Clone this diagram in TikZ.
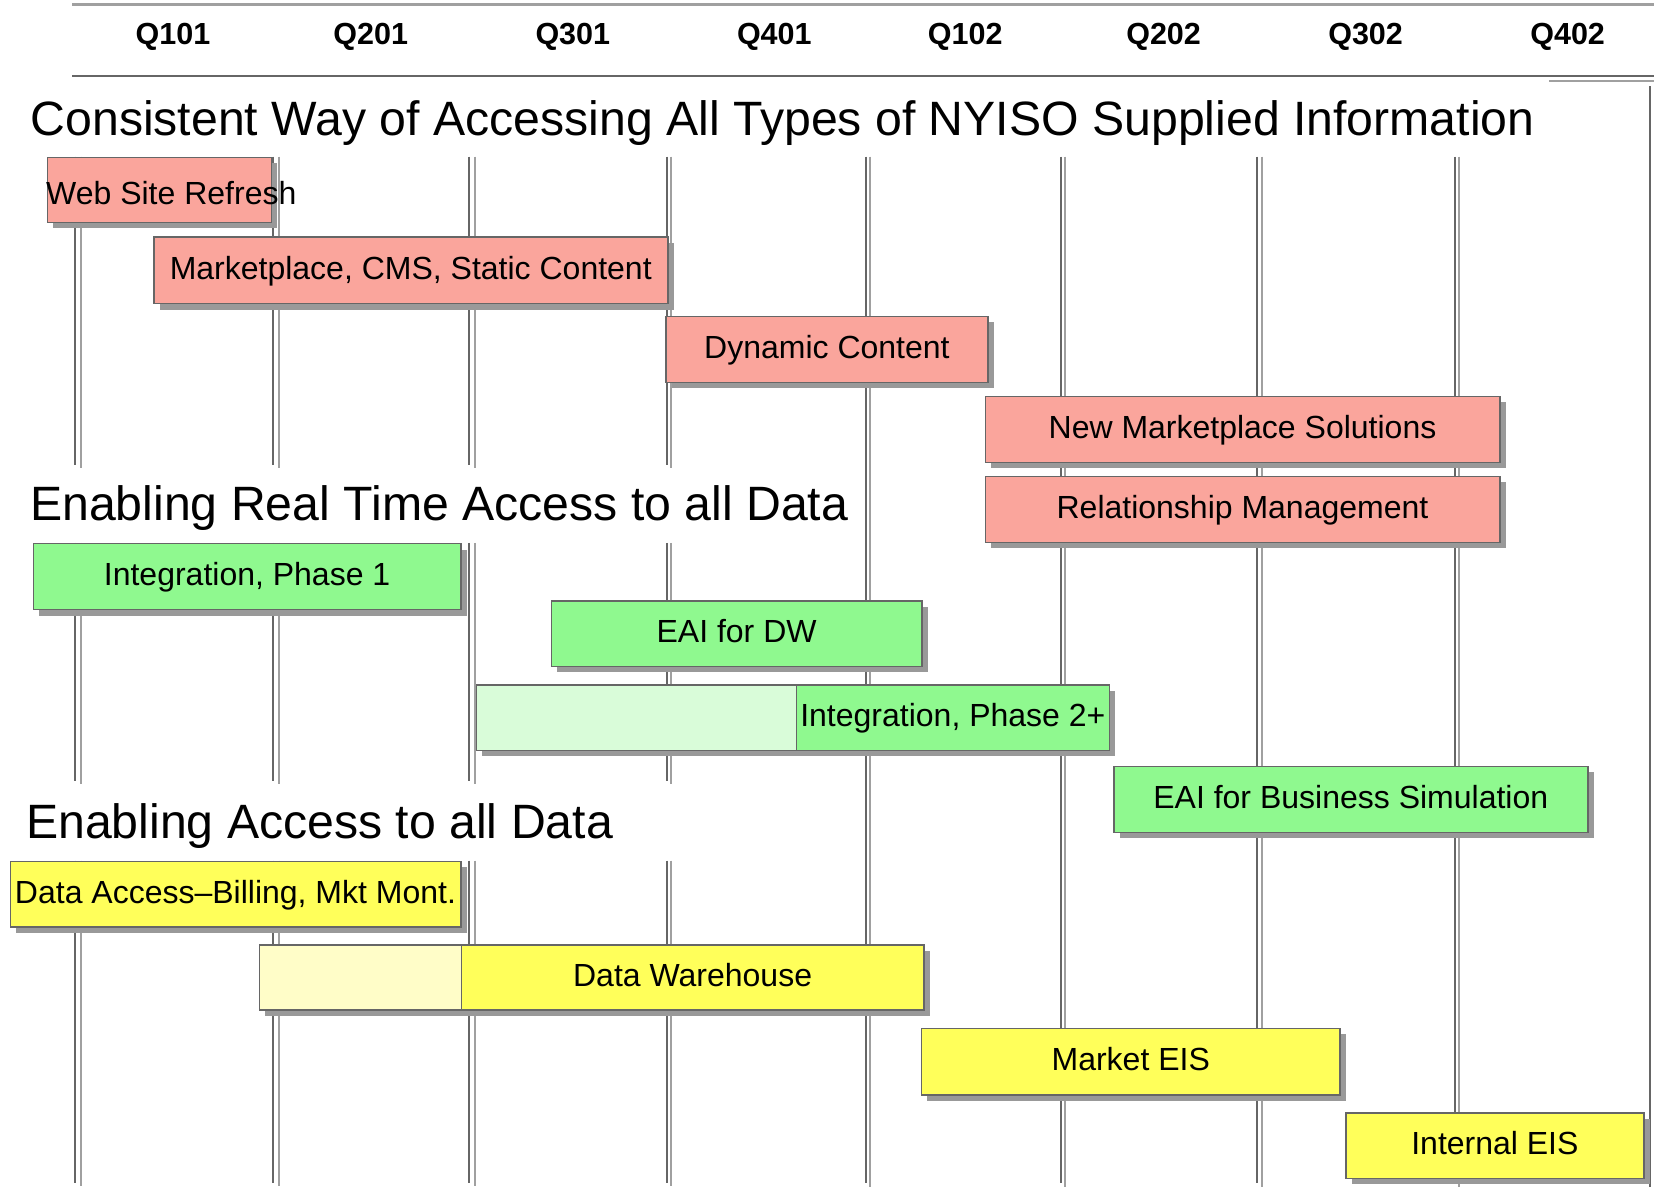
\documentclass[tikz,border=0pt]{standalone}
\usepackage{fontspec}
\setmainfont{Liberation Sans}
\usetikzlibrary{shadows}

\definecolor{ruledark}{RGB}{102,102,102}
\definecolor{rulelight}{RGB}{160,160,160}
\definecolor{barshadow}{RGB}{153,153,153}
\definecolor{pinkbar}{RGB}{250,165,156}
\definecolor{greenbar}{RGB}{143,249,143}
\definecolor{greenpale}{RGB}{217,252,217}
\definecolor{yellowbar}{RGB}{255,255,90}
\definecolor{yellowpale}{RGB}{255,253,200}

\begin{document}
\begin{tikzpicture}[x=1pt,y=-1pt,
  quarter/.style={font=\fontsize{30.5}{36}\selectfont\bfseries, anchor=base, inner sep=0pt},
  heading/.style={font=\fontsize{48.2}{56}\selectfont, anchor=base west, inner sep=0pt},
  griddark/.style={draw=ruledark, line width=2pt},
  gridlight/.style={draw=rulelight, line width=2pt},
  bar/.style={draw=ruledark, line width=1.5pt, inner sep=0pt, anchor=north west,
    text height=18pt, text depth=0pt, font=\fontsize{32}{38}\selectfont,
    drop shadow={shadow xshift=6pt, shadow yshift=-6pt, fill=barshadow, opacity=1}},
  ghostbar/.style={bar, drop shadow={shadow xshift=6pt, shadow yshift=-1.5pt, fill=barshadow, opacity=1}},
  pink/.style={fill=pinkbar},
  green/.style={fill=greenbar},
  yellow/.style={fill=yellowbar}]

\useasboundingbox (0,0) rectangle (1654,1187);
\fill[white] (0,0) rectangle (1654,1187);

% header rules and frame
\draw[rulelight, line width=3pt] (72,4.5) -- (1654,4.5);
\draw[ruledark, line width=2pt] (72,76) -- (1654,76);
\draw[rulelight, line width=2pt] (1549,80.5) -- (1654,80.5);
\draw[ruledark, line width=2pt] (1650,86) -- (1650,1187);

% quarter labels
\foreach \x/\q in {173/Q101, 370.8/Q201, 572.8/Q301, 774.3/Q401,
                   965.2/Q102, 1163.6/Q202, 1365.6/Q302, 1567.6/Q402}
  \node[quarter] (\q) at (\x,44) {\q};

% quarter grid lines (double rules), interrupted by the headings on the left
\foreach \d/\l in {74.7/80.7, 272.7/278.7, 469/474.7, 666.7/671}{
  \foreach \t/\b in {156.7/465, 542.8/781, 860.5/1183}{
    \draw[gridlight] (\l,\t) -- (\l,{\b+3});
    \draw[griddark] (\d,\t) -- (\d,\b);
  }
}
\foreach \d/\l in {866/870, 1061/1065, 1257/1262, 1455/1459}{
  \draw[gridlight] (\l,156.7) -- (\l,1187);
  \draw[griddark] (\d,156.7) -- (\d,1183);
}

% section headings
\node[heading] (h1) at (30.5,135) {Consistent Way of Accessing All Types of NYISO Supplied Information};
\node[heading] (h2) at (30,520) {Enabling Real Time Access to all Data};
\node[heading] (h3) at (26,838.5) {Enabling Access to all Data};

% information access bars
\node[bar, pink, minimum width=224pt, minimum height=65pt] (web) at (46.7,156.7) {};
\node[anchor=base west, inner sep=0pt, font=\fontsize{32}{38}\selectfont] (webtext) at (46,204) {Web Site Refresh};
\node[bar, pink, minimum width=514pt, minimum height=66.5pt] (mkt) at (153,236.3) {Marketplace, CMS, Static Content};
\node[bar, pink, minimum width=322.3pt, minimum height=66pt] (dyn) at (665,315.7) {Dynamic Content};
\node[bar, pink, minimum width=514.5pt, minimum height=66pt] (nms) at (984.5,395.6) {New Marketplace Solutions};
\node[bar, pink, minimum width=514.5pt, minimum height=66pt] (rm) at (984.5,475.7) {Relationship Management};

% real time access bars
\node[bar, green, minimum width=427.3pt, minimum height=66pt] (int1) at (32.7,542.8) {Integration, Phase 1};
\node[bar, green, minimum width=370.3pt, minimum height=65.4pt] (eaidw) at (550.7,600.2) {EAI for DW};
\node[ghostbar, fill=greenpale, minimum width=320pt, minimum height=65.5pt] (int2a) at (475.5,684) {};
\node[bar, green, minimum width=313.2pt, minimum height=65.5pt] (int2b) at (795.5,684) {Integration, Phase 2+};
\node[bar, green, minimum width=474pt, minimum height=66pt] (eaibs) at (1113,765.7) {EAI for Business Simulation};

% data access bars
\node[bar, yellow, minimum width=450.5pt, minimum height=65.5pt] (dab) at (9.5,860.5) {Data Access–Billing, Mkt Mont.};
\node[ghostbar, fill=yellowpale, minimum width=202pt, minimum height=65.3pt] (dwa) at (258.7,944) {};
\node[bar, yellow, minimum width=462.3pt, minimum height=65.3pt] (dwb) at (460.7,944) {Data Warehouse};
\node[bar, yellow, minimum width=418.6pt, minimum height=66.3pt] (meis) at (920.7,1027.7) {Market EIS};
\node[bar, yellow, minimum width=298.3pt, minimum height=65.4pt] (ieis) at (1345,1112.3) {Internal EIS};

\end{tikzpicture}
\end{document}
